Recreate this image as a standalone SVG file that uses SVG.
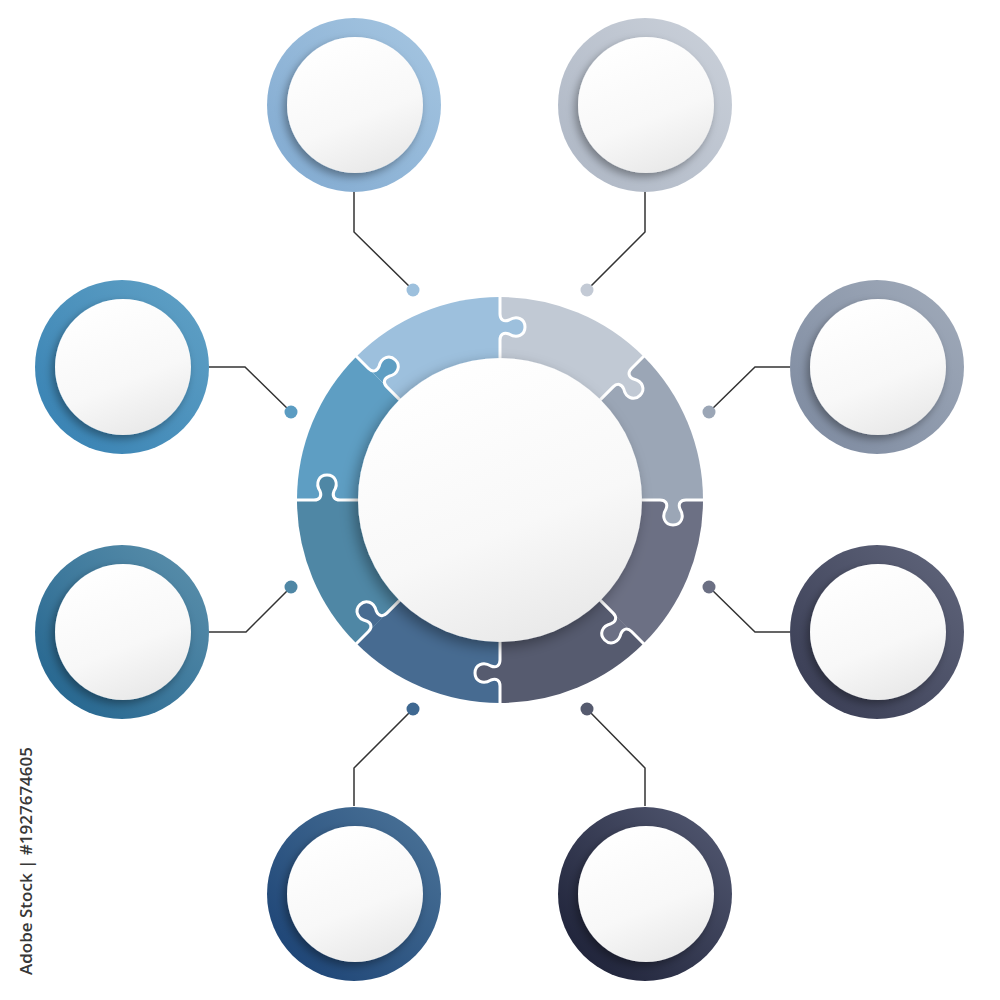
<svg xmlns="http://www.w3.org/2000/svg" width="1000" height="1000" viewBox="0 0 1000 1000">
<defs>
  <filter id="sh" x="-30%" y="-30%" width="160%" height="160%">
    <feDropShadow dx="-3" dy="4" stdDeviation="4" flood-color="#000" flood-opacity="0.35"/>
  </filter>
  <filter id="shc" x="-30%" y="-30%" width="160%" height="160%">
    <feDropShadow dx="-4" dy="5" stdDeviation="7" flood-color="#000" flood-opacity="0.35"/>
  </filter>
  <linearGradient id="wh" x1="0.3" y1="0" x2="0.7" y2="1">
    <stop offset="0" stop-color="#ffffff"/>
    <stop offset="0.6" stop-color="#f8f8f8"/>
    <stop offset="1" stop-color="#e8e8e8"/>
  </linearGradient>
  <linearGradient id="gTL" x1="0" y1="1" x2="1" y2="0"><stop offset="0" stop-color="#80a9d0"/><stop offset="1" stop-color="#a6c6e1"/></linearGradient>
  <linearGradient id="gTR" x1="0" y1="1" x2="1" y2="0"><stop offset="0" stop-color="#adb6c4"/><stop offset="1" stop-color="#cbd1da"/></linearGradient>
  <linearGradient id="gRU" x1="0" y1="1" x2="1" y2="0"><stop offset="0" stop-color="#7c899f"/><stop offset="1" stop-color="#a1abba"/></linearGradient>
  <linearGradient id="gRL" x1="0" y1="1" x2="1" y2="0"><stop offset="0" stop-color="#363a51"/><stop offset="1" stop-color="#61667c"/></linearGradient>
  <linearGradient id="gBR" x1="0" y1="1" x2="1" y2="0"><stop offset="0" stop-color="#181c32"/><stop offset="1" stop-color="#555b74"/></linearGradient>
  <linearGradient id="gBL" x1="0" y1="1" x2="1" y2="0"><stop offset="0" stop-color="#183f72"/><stop offset="1" stop-color="#4d7599"/></linearGradient>
  <linearGradient id="gLL" x1="0" y1="1" x2="1" y2="0"><stop offset="0" stop-color="#20628d"/><stop offset="1" stop-color="#5d91ac"/></linearGradient>
  <linearGradient id="gLU" x1="0" y1="1" x2="1" y2="0"><stop offset="0" stop-color="#3580b2"/><stop offset="1" stop-color="#62a2c6"/></linearGradient>
  <path id="wedge" d="M0 0 L203 0 A203 203 0 0 1 143.54 143.54 Z"/>
  <path id="knobfill" d="M160 0 C166 0 168 4 166 9 C161 17 165 25 173 25 C181 25 185 17 180 9 C178 4 180 0 186 0 Z"/>
  <path id="seam" d="M142 0 L160 0 C166 0 168 4 166 9 C161 17 165 25 173 25 C181 25 185 17 180 9 C178 4 180 0 186 0 L204 0"/>
</defs>
<style>
  .white { fill: url(#wh); filter: url(#sh); }
  .seam { fill: none; stroke: #ffffff; stroke-width: 3; stroke-linejoin: round; stroke-linecap: butt; }
  .conn { fill: none; stroke: #333333; stroke-width: 1.5; }
  .label { font-family: "Open Sans", "Liberation Sans", sans-serif; font-size: 17px; font-weight: 600; fill: #383838; }
</style>
<rect width="1000" height="1000" fill="#ffffff"/>

<g id="connectors">
  <polyline class="conn" points="354,192 354,232 413,290"/>
  <polyline class="conn" points="645,192 645,232 587,290"/>
  <polyline class="conn" points="209,367 245,367 291,412"/>
  <polyline class="conn" points="790,367 755,367 709,412"/>
  <polyline class="conn" points="209,632 246,632 291,587"/>
  <polyline class="conn" points="790,632 755,632 709,587"/>
  <polyline class="conn" points="354,806 354,768 413,709"/>
  <polyline class="conn" points="645,806 645,768 587,709"/>
  <circle cx="413" cy="290" r="6.5" fill="#9dc0dd"/>
  <circle cx="587" cy="290" r="6.5" fill="#c3cad5"/>
  <circle cx="291" cy="412" r="6.5" fill="#5b9cc2"/>
  <circle cx="709" cy="412" r="6.5" fill="#9ba6b6"/>
  <circle cx="291" cy="587" r="6.5" fill="#4f87a5"/>
  <circle cx="709" cy="587" r="6.5" fill="#6b6f83"/>
  <circle cx="413" cy="709" r="6.5" fill="#3f6891"/>
  <circle cx="587" cy="709" r="6.5" fill="#555a6e"/>
</g>

<g id="center">
  <g transform="translate(500 500)">
    <use href="#wedge" transform="rotate(-90)" fill="#c1c9d4"/>
    <use href="#wedge" transform="rotate(-45)" fill="#9ba6b6"/>
    <use href="#wedge" transform="rotate(0)" fill="#6c7084"/>
    <use href="#wedge" transform="rotate(45)" fill="#565b6f"/>
    <use href="#wedge" transform="rotate(90)" fill="#476b91"/>
    <use href="#wedge" transform="rotate(135)" fill="#4f87a5"/>
    <use href="#wedge" transform="rotate(180)" fill="#5e9ec3"/>
    <use href="#wedge" transform="rotate(225)" fill="#9dc0dd"/>

    <use href="#knobfill" transform="rotate(-90)" fill="#9dc0dd"/>
    <use href="#knobfill" transform="rotate(-45)" fill="#c1c9d4"/>
    <use href="#knobfill" transform="rotate(0)" fill="#9ba6b6"/>
    <use href="#knobfill" transform="rotate(45)" fill="#6c7084"/>
    <use href="#knobfill" transform="rotate(90)" fill="#565b6f"/>
    <use href="#knobfill" transform="rotate(135)" fill="#476b91"/>
    <use href="#knobfill" transform="rotate(180)" fill="#4f87a5"/>
    <use href="#knobfill" transform="rotate(225)" fill="#5e9ec3"/>

    <use href="#seam" class="seam" transform="rotate(-90)"/>
    <use href="#seam" class="seam" transform="rotate(-45)"/>
    <use href="#seam" class="seam" transform="rotate(0)"/>
    <use href="#seam" class="seam" transform="rotate(45)"/>
    <use href="#seam" class="seam" transform="rotate(90)"/>
    <use href="#seam" class="seam" transform="rotate(135)"/>
    <use href="#seam" class="seam" transform="rotate(180)"/>
    <use href="#seam" class="seam" transform="rotate(225)"/>
  </g>
  <circle cx="500" cy="500" r="142" fill="url(#wh)" filter="url(#shc)"/>
</g>

<g id="node-top-left">
  <circle cx="354" cy="105" r="87" fill="url(#gTL)"/>
  <circle class="white" cx="355" cy="105" r="68"/>
</g>
<g id="node-top-right">
  <circle cx="645" cy="105" r="87" fill="url(#gTR)"/>
  <circle class="white" cx="646" cy="105" r="68"/>
</g>
<g id="node-right-upper">
  <circle cx="877" cy="367" r="87" fill="url(#gRU)"/>
  <circle class="white" cx="878" cy="367" r="68"/>
</g>
<g id="node-right-lower">
  <circle cx="877" cy="632" r="87" fill="url(#gRL)"/>
  <circle class="white" cx="878" cy="632" r="68"/>
</g>
<g id="node-bottom-right">
  <circle cx="645" cy="894" r="87" fill="url(#gBR)"/>
  <circle class="white" cx="646" cy="894" r="68"/>
</g>
<g id="node-bottom-left">
  <circle cx="354" cy="894" r="87" fill="url(#gBL)"/>
  <circle class="white" cx="355" cy="894" r="68"/>
</g>
<g id="node-left-lower">
  <circle cx="122" cy="632" r="87" fill="url(#gLL)"/>
  <circle class="white" cx="123" cy="632" r="68"/>
</g>
<g id="node-left-upper">
  <circle cx="122" cy="367" r="87" fill="url(#gLU)"/>
  <circle class="white" cx="123" cy="367" r="68"/>
</g>

<text class="label" transform="translate(32 975) rotate(-90)">Adobe Stock | #1927674605</text>
</svg>
